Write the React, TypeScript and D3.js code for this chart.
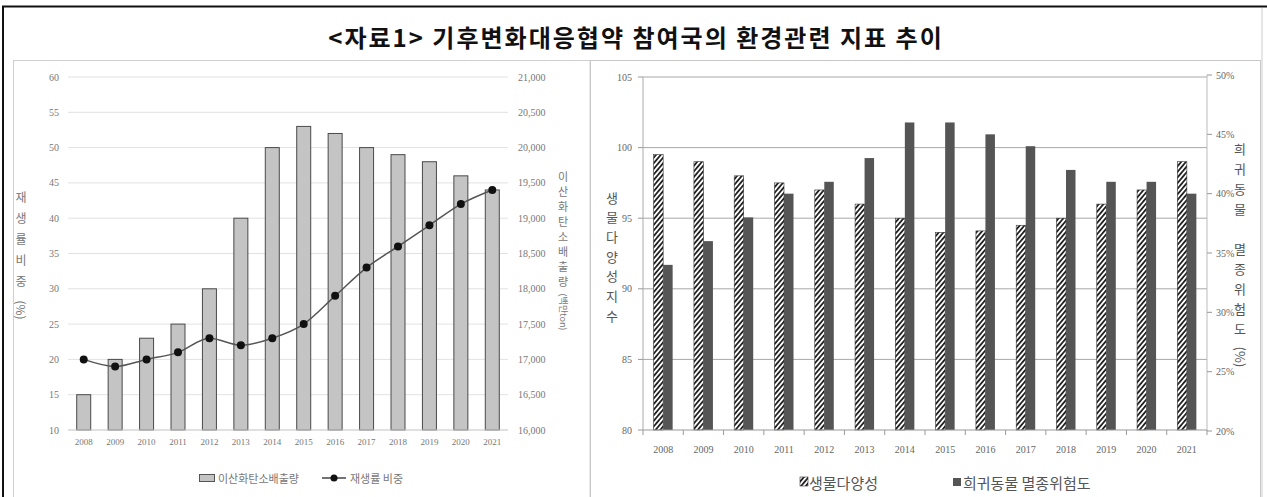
import React from "react";
import * as d3 from "d3";

const years = ["2008","2009","2010","2011","2012","2013","2014","2015","2016","2017","2018","2019","2020","2021"];
const co2 = [16500,17000,17300,17500,18000,19000,20000,20300,20200,20000,19900,19800,19600,19400];
const renewable = [20,19,20,21,23,22,23,25,29,33,36,39,42,44];
const renewTicks = [10,15,20,25,30,35,40,45,50,55,60];
const co2Ticks = [16000,16500,17000,17500,18000,18500,19000,19500,20000,20500,21000];
const biodiversity = [99.5,99,98,97.5,97,96,95,94,94.1,94.5,95,96,97,99];
const extinction = [34,36,38,40,41,43,46,46,45,44,42,41,41,40];
const bioTicks = [80,85,90,95,100,105];
const extTicks = [20,25,30,35,40,45,50];

const title = "<자료1> 기후변화대응협약 참여국의 환경관련 지표 추이";
const legendCo2 = "이산화탄소배출량";
const legendRenew = "재생률 비중";
const legendBio = "생물다양성";
const legendExt = "희귀동물 멸종위험도";

const KR = "'Noto Sans CJK KR', 'Noto Sans', sans-serif";
const NUM = "'Liberation Serif', 'DejaVu Serif', serif";

function Stack({ chars, x, y0, step, size, fill }: { chars: string; x: number; y0: number; step: number; size: number; fill: string }) {
  return (
    <g fontFamily={KR} fontSize={size} fill={fill} textAnchor="middle">
      {chars.split("").map((c, i) => (
        <text key={i} x={x} y={y0 + i * step} dominantBaseline="central">{c}</text>
      ))}
    </g>
  );
}

export default function App() {
  // Left chart scales
  const lx = d3.scaleBand<string>().domain(years).range([68, 508]);
  const ly = d3.scaleLinear().domain([10, 60]).range([430, 77]);
  const ly2 = d3.scaleLinear().domain([16000, 21000]).range([430, 77]);
  const lbw = 14;
  const line = d3.line<number>()
    .x((_, i) => (lx(years[i]) as number) + lx.bandwidth() / 2)
    .y((d) => ly(d))
    .curve(d3.curveMonotoneX);

  // Right chart scales
  const rx = d3.scaleBand<string>().domain(years).range([643, 1207]);
  const ry = d3.scaleLinear().domain([80, 105]).range([430, 77]);
  const ry2 = d3.scaleLinear().domain([20, 50]).range([431, 75]);
  const rbw = 9.5;

  return (
    <svg width={1267} height={497} style={{ position: "absolute", left: 0, top: 0, background: "#fff" }}>
      <defs>
        <pattern id="hatch" patternUnits="userSpaceOnUse" width={3.6} height={3.6} patternTransform="rotate(40)">
          <rect width={3.6} height={3.6} fill="#fff" />
          <line x1={0.9} y1={0} x2={0.9} y2={3.6} stroke="#222" strokeWidth={1.8} />
        </pattern>
      </defs>
      <rect x={0} y={0} width={1267} height={497} fill="#fff" />
      {/* frame */}
      <line x1={2} y1={6.5} x2={1267} y2={6.5} stroke="#111" strokeWidth={2} />
      <line x1={3} y1={6} x2={3} y2={497} stroke="#111" strokeWidth={2} />
      <rect x={13.5} y={60.5} width={576.5} height={450} fill="none" stroke="#d0d0d0" />
      <rect x={590.5} y={60.5} width={670} height={450} fill="none" stroke="#c8c8c8" />
      <line x1={1262} y1={8} x2={1262} y2={497} stroke="#ccc" />

      {/* title */}
      <text x={636} y={36} textAnchor="middle" dominantBaseline="central" fontFamily={KR} fontWeight={700} fontSize={24} fill="#111" letterSpacing={2}>
        {title}
      </text>

      {/* ===== Left chart ===== */}
      <g>
        {renewTicks.map((t) => (
          <line key={t} x1={68} x2={508} y1={ly(t)} y2={ly(t)} stroke="#e2e2e2" />
        ))}
        {years.map((yr, i) => (
          <rect key={yr} x={(lx(yr) as number) + (lx.bandwidth() - lbw) / 2} y={ly2(co2[i])} width={lbw} height={430 - ly2(co2[i])} fill="#c4c4c4" stroke="#4a4a4a" strokeWidth={1} />
        ))}
        <line x1={68} x2={508} y1={430} y2={430} stroke="#cfcfcf" />
        <path d={line(renewable) || ""} fill="none" stroke="#555" strokeWidth={1.5} />
        {renewable.map((v, i) => (
          <circle key={i} cx={(lx(years[i]) as number) + lx.bandwidth() / 2} cy={ly(v)} r={4} fill="#111" />
        ))}
        <g fontFamily={NUM} fontSize={10} fill="#777">
          {renewTicks.map((t) => (
            <text key={t} x={59} y={ly(t)} textAnchor="end" dominantBaseline="central">{t}</text>
          ))}
          {co2Ticks.map((t) => (
            <text key={t} x={518} y={ly2(t)} textAnchor="start" dominantBaseline="central">{d3.format(",")(t)}</text>
          ))}
          {years.map((yr) => (
            <text key={yr} x={(lx(yr) as number) + lx.bandwidth() / 2} y={442} textAnchor="middle" dominantBaseline="central" fontSize={9}>{yr}</text>
          ))}
        </g>
        <Stack chars="재생률비중" x={21} y0={196} step={21} size={12} fill="#777" />
        <text x={21} y={310} transform="rotate(90 21 310)" textAnchor="middle" dominantBaseline="central" fontFamily={KR} fontSize={12} fill="#777">(%)</text>
        <Stack chars="이산화탄소배출량" x={563} y0={176} step={15} size={11} fill="#777" />
        <text x={563} y={312} transform="rotate(90 563 312)" textAnchor="middle" dominantBaseline="central" fontFamily={KR} fontSize={9} fill="#777">(백만ton)</text>
        {/* legend */}
        <rect x={199.5} y={474.5} width={15} height={7} fill="#c4c4c4" stroke="#555" />
        <text x={218} y={478} dominantBaseline="central" fontFamily={KR} fontSize={11} fill="#777">{legendCo2}</text>
        <line x1={322} x2={346} y1={478} y2={478} stroke="#444" strokeWidth={1.5} />
        <circle cx={334} cy={478} r={3.5} fill="#111" />
        <text x={350} y={478} dominantBaseline="central" fontFamily={KR} fontSize={11} fill="#777">{legendRenew}</text>
      </g>

      {/* ===== Right chart ===== */}
      <g>
        {bioTicks.filter((t) => t > 80).map((t) => (
          <line key={t} x1={643} x2={1207} y1={ry(t)} y2={ry(t)} stroke="#a8a8a8" strokeWidth={1} />
        ))}
        {years.map((yr, i) => {
          const c = (rx(yr) as number) + rx.bandwidth() / 2;
          return (
            <g key={yr}>
              <rect x={c - rbw} y={ry(biodiversity[i])} width={rbw} height={430 - ry(biodiversity[i])} fill="url(#hatch)" stroke="#333" strokeWidth={0.6} />
              <rect x={c} y={ry2(extinction[i])} width={rbw} height={430 - ry2(extinction[i])} fill="#555" />
            </g>
          );
        })}
        <line x1={643} x2={1207} y1={430} y2={430} stroke="#999" />
        <line x1={643} x2={643} y1={77} y2={430} stroke="#aaa" />
        <line x1={1207} x2={1207} y1={75} y2={431} stroke="#bbb" />
        {years.concat(["end"]).map((yr, i) => {
          const x = 643 + i * rx.bandwidth();
          return <line key={i} x1={x} x2={x} y1={430} y2={435} stroke="#999" />;
        })}
        {bioTicks.map((t) => (
          <line key={t} x1={638} x2={643} y1={ry(t)} y2={ry(t)} stroke="#999" />
        ))}
        {extTicks.map((t) => (
          <line key={t} x1={1207} x2={1212} y1={ry2(t)} y2={ry2(t)} stroke="#999" />
        ))}
        <g fontFamily={NUM} fontSize={10} fill="#666">
          {bioTicks.map((t) => (
            <text key={t} x={632} y={ry(t)} textAnchor="end" dominantBaseline="central">{t}</text>
          ))}
          {extTicks.map((t) => (
            <text key={t} x={1216} y={ry2(t)} textAnchor="start" dominantBaseline="central">{t}%</text>
          ))}
          {years.map((yr) => (
            <text key={yr} x={(rx(yr) as number) + rx.bandwidth() / 2} y={449} textAnchor="middle" dominantBaseline="central">{yr}</text>
          ))}
        </g>
        <Stack chars="생물다양성지수" x={612} y0={197} step={19.7} size={13} fill="#555" />
        <Stack chars="희귀동물 멸종위험도" x={1240} y0={148} step={20} size={13} fill="#555" />
        <text x={1240} y={357} transform="rotate(90 1240 357)" textAnchor="middle" dominantBaseline="central" fontFamily={KR} fontSize={13} fill="#555">(%)</text>
        {/* legend */}
        <rect x={800} y={477} width={8} height={9} fill="url(#hatch)" stroke="#333" strokeWidth={0.6} />
        <text x={809} y={482} dominantBaseline="central" fontFamily={KR} fontSize={15} fill="#555">{legendBio}</text>
        <rect x={953} y={478} width={8} height={8} fill="#555" />
        <text x={963} y={482} dominantBaseline="central" fontFamily={KR} fontSize={15} fill="#555">{legendExt}</text>
      </g>
    </svg>
  );
}
